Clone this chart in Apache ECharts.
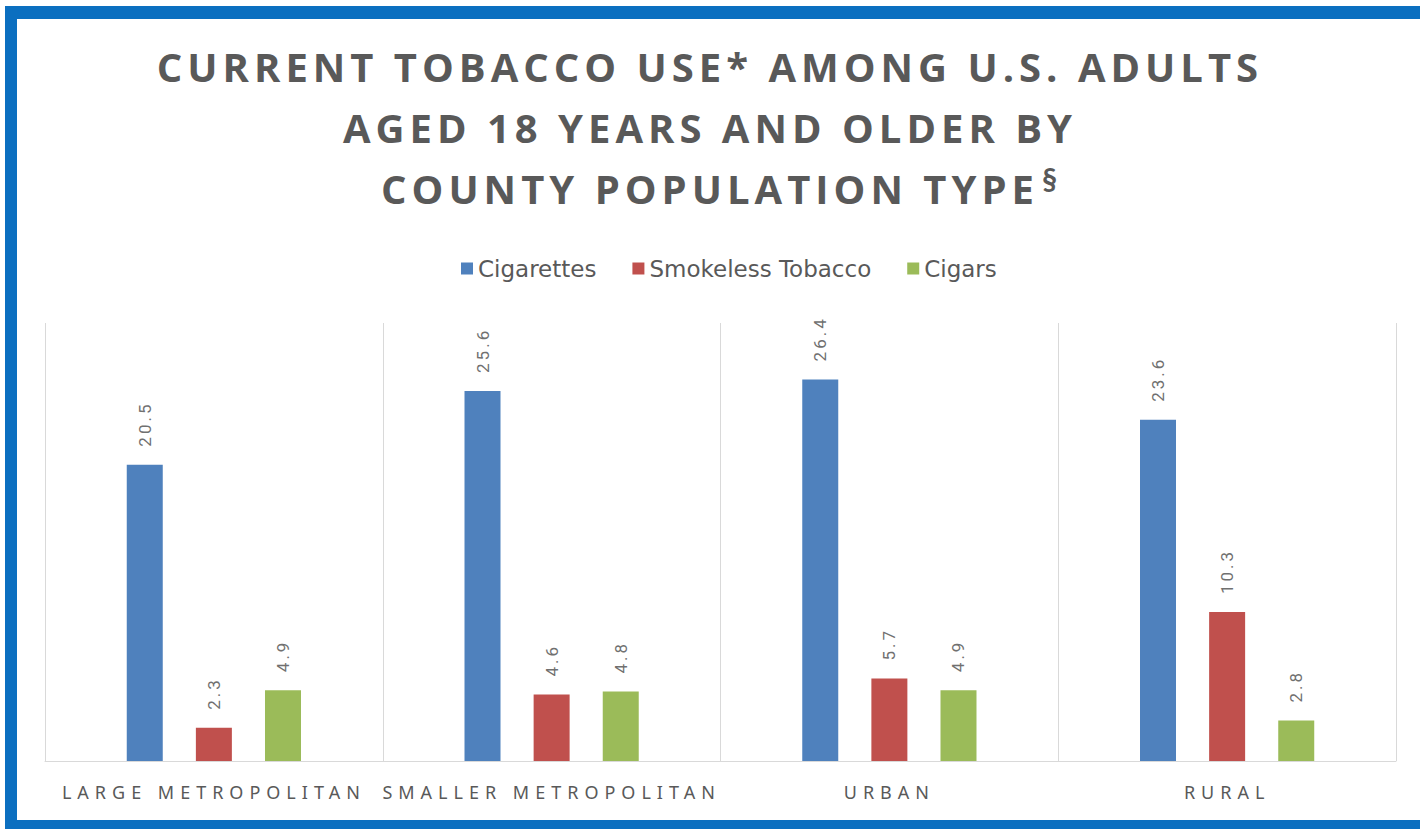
<!DOCTYPE html>
<html>
<head>
<meta charset="utf-8">
<script src="https://cdn.jsdelivr.net/npm/echarts@6/dist/echarts.min.js"></script>
<style>
    html, body { margin: 0; padding: 0; background: #fff; }
    #chart { width: 1420px; height: 829px; }
    /* spaced lettering like the original (svg renderer) */
    [style*="Open Sans"], [font-family*="Open Sans"] { letter-spacing: 5px; }
    [style*="Noto Sans"], [font-family*="Noto Sans"] { letter-spacing: 6px; }
    [style*="Roboto"], [font-family*="Roboto"] { letter-spacing: 3px; }
</style>
</head>
<body>
<div id="chart"></div>
<script>
var categories = ['LARGE METROPOLITAN', 'SMALLER METROPOLITAN', 'URBAN', 'RURAL'];
var cigarettes = [20.5, 25.6, 26.4, 23.6];
var smokeless = [2.3, 4.6, 5.7, 10.3];
var cigars = [4.9, 4.8, 4.9, 2.8];

var myChart = echarts.init(document.getElementById('chart'), null, { renderer: 'svg' });

var barLabel = {
    show: true,
    position: 'top',
    rotate: 90,
    align: 'left',
    verticalAlign: 'middle',
    distance: 18,
    fontFamily: 'Roboto',
    fontSize: 17,
    color: '#707070'
};

option = {
    backgroundColor: '#ffffff',
    animation: false,
    title: [{
        text: 'CURRENT TOBACCO USE* AMONG U.S. ADULTS\nAGED 18 YEARS AND OLDER BY\nCOUNTY POPULATION TYPE',
        left: 'center',
        top: 31,
        textStyle: {
            fontFamily: 'Open Sans',
            fontWeight: 'bold',
            fontSize: 40,
            lineHeight: 61,
            color: '#595959'
        }
    }, {
        text: '§',
        left: 1037,
        top: 158,
        textStyle: {
            fontFamily: 'Lato',
            fontWeight: 'bold',
            fontSize: 30,
            lineHeight: 30,
            color: '#595959'
        }
    }],
    legend: {
        top: 252,
        left: 456,
        itemWidth: 12,
        itemHeight: 12,
        itemGap: 36,
        icon: 'rect',
        textStyle: {
            fontFamily: 'DejaVu Sans',
            fontSize: 23,
            color: '#595959'
        },
        data: ['Cigarettes', 'Smokeless Tobacco', 'Cigars']
    },
    grid: {
        left: 45,
        right: 24,
        top: 323,
        bottom: 68
    },
    xAxis: {
        type: 'category',
        data: categories,
        axisLine: { lineStyle: { color: '#d9d9d9', width: 1 } },
        axisTick: { show: false },
        splitLine: { show: true, lineStyle: { color: '#d9d9d9', width: 1 } },
        axisLabel: {
            interval: 0,
            margin: 22,
            fontFamily: 'Noto Sans',
            fontSize: 18,
            color: '#595959'
        }
    },
    yAxis: {
        type: 'value',
        min: 0,
        max: 30.3,
        show: false,
        splitLine: { show: false }
    },
    series: [{
            name: 'Cigarettes',
            type: 'bar',
            barWidth: 36,
            barGap: '92%',
            itemStyle: { color: '#4f81bd' },
            label: barLabel,
            data: cigarettes
        },
        {
            name: 'Smokeless Tobacco',
            type: 'bar',
            barWidth: 36,
            barGap: '92%',
            itemStyle: { color: '#c0504d' },
            label: barLabel,
            data: smokeless
        },
        {
            name: 'Cigars',
            type: 'bar',
            barWidth: 36,
            barGap: '92%',
            itemStyle: { color: '#9bbb59' },
            label: barLabel,
            data: cigars
        }
    ],
    graphic: [
        // blue frame: top, left and bottom edges
        { type: 'rect', silent: true, z: 100, shape: { x: 5, y: 6, width: 1415, height: 13 }, style: { fill: '#0b6fc0' } },
        { type: 'rect', silent: true, z: 100, shape: { x: 5, y: 6, width: 12, height: 823 }, style: { fill: '#0b6fc0' } },
        { type: 'rect', silent: true, z: 100, shape: { x: 5, y: 820, width: 1415, height: 9 }, style: { fill: '#0b6fc0' } }
    ]
};
myChart.setOption(option);
</script>
</body>
</html>
